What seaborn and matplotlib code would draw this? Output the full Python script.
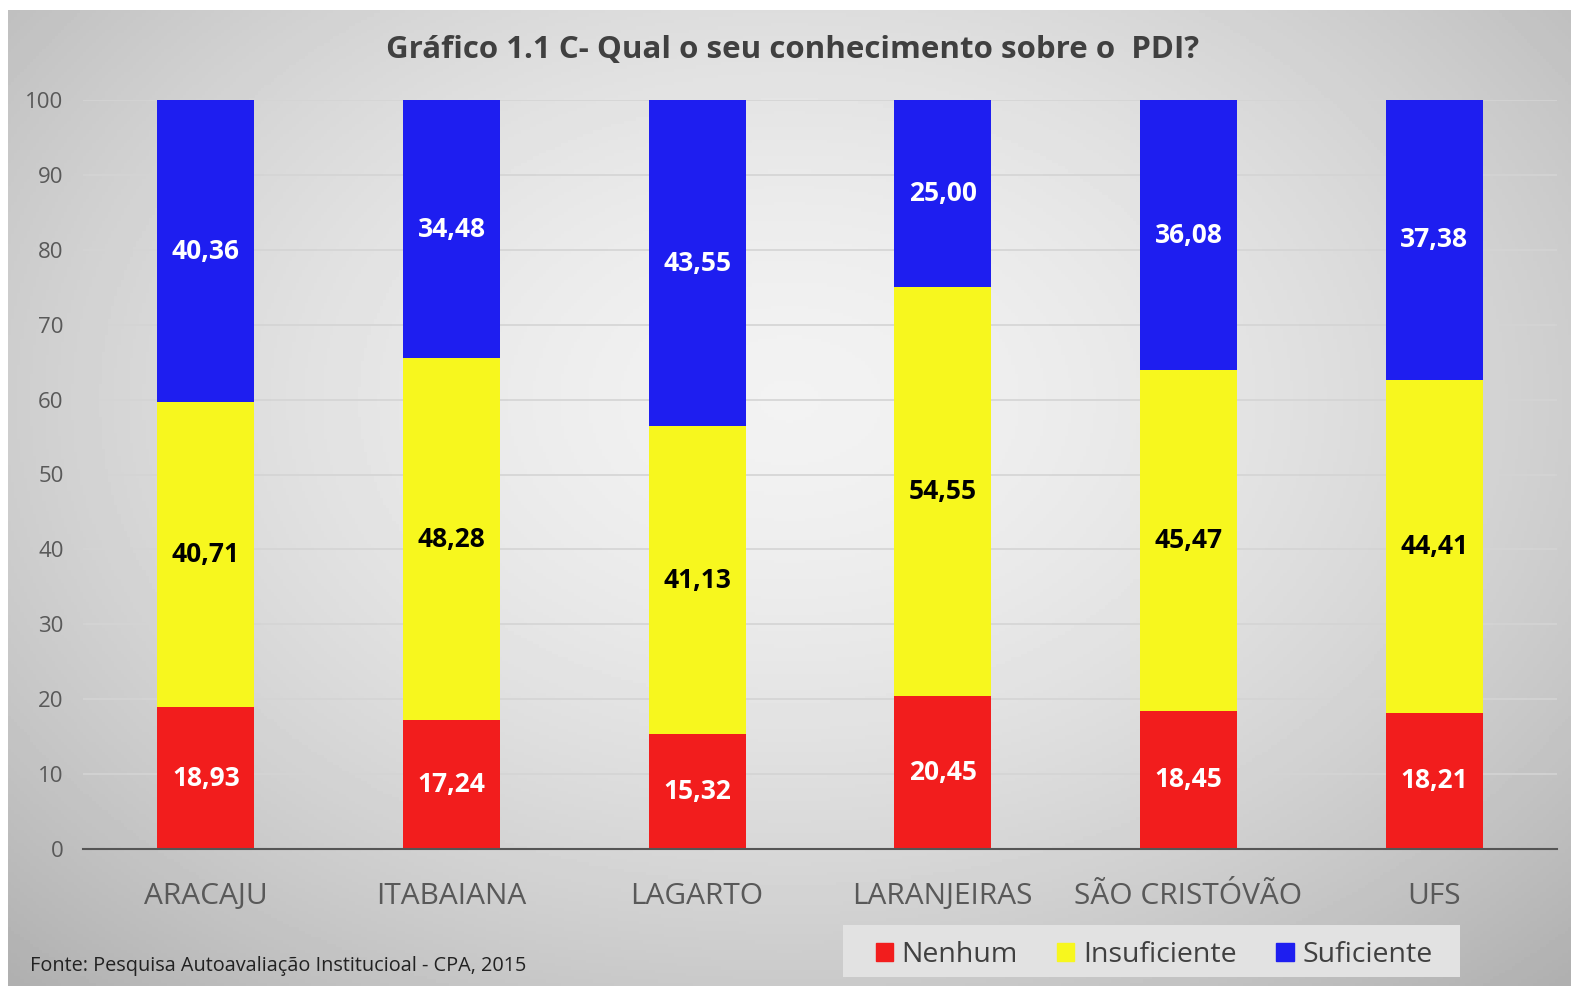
import numpy as np
import pandas as pd
import matplotlib
matplotlib.use("Agg")
import matplotlib.pyplot as plt
import seaborn as sns
from matplotlib.patches import Patch, Rectangle

cidades = ["ARACAJU", "ITABAIANA", "LAGARTO", "LARANJEIRAS", "SÃO CRISTÓVÃO", "UFS"]
nenhum = [18.93, 17.24, 15.32, 20.45, 18.45, 18.21]
insuficiente = [40.71, 48.28, 41.13, 54.55, 45.47, 44.41]
suficiente = [40.36, 34.48, 43.55, 25.00, 36.08, 37.38]

cores = {"Nenhum": "#F21D1D", "Insuficiente": "#F7F71E", "Suficiente": "#1E1EF0"}

df = pd.DataFrame({"cidade": cidades, "Nenhum": nenhum,
                   "Insuficiente": insuficiente, "Suficiente": suficiente})
df["ate_insuf"] = df["Nenhum"] + df["Insuficiente"]
df["total"] = df["ate_insuf"] + df["Suficiente"]

sns.set_style("white")
plt.rcParams["font.family"] = ["Open Sans", "DejaVu Sans"]

fig = plt.figure(figsize=(15.71, 9.86), dpi=100)

# fundo em degradê (claro no centro, cinza nas bordas)
bg = fig.add_axes([8 / 1571, 0, 1 - 8 / 1571, 1 - 10 / 986])
yy, xx = np.mgrid[-1:1:300j, -1:1:500j]
r = np.sqrt((xx * 0.9) ** 2 + ((yy + 0.2) * 0.8) ** 2)
grad = 0.95 - 0.17 * np.clip(r, 0, 1.3) ** 1.6
bg.imshow(grad, cmap="gray", vmin=0, vmax=1, aspect="auto", extent=[0, 1, 0, 1])
bg.set_axis_off()

ax = fig.add_axes([83 / 1571, 1 - 849 / 986, (1557 - 83) / 1571, (849 - 100) / 986])
ax.patch.set_alpha(0)

for col, serie in [("total", "Suficiente"), ("ate_insuf", "Insuficiente"), ("Nenhum", "Nenhum")]:
    sns.barplot(data=df, x="cidade", y=col, color=cores[serie], saturation=1,
                width=0.395, linewidth=0, ax=ax, zorder=3)

for i in range(len(df)):
    n, ins, s = df.loc[i, "Nenhum"], df.loc[i, "Insuficiente"], df.loc[i, "Suficiente"]
    for val, ymid, c in [(n, n / 2, "white"), (ins, n + ins / 2, "black"),
                         (s, n + ins + s / 2, "white")]:
        ax.text(i, ymid, f"{val:.2f}".replace(".", ","), ha="center", va="center",
                fontsize=19, fontweight="bold", color=c, zorder=4)

ax.set_xlim(-0.5, 5.5)
ax.set_ylim(0, 100)
ax.set_yticks(range(0, 101, 10))
ax.yaxis.grid(True, color="#d4d4d4", linewidth=1.2, zorder=0)
ax.set_axisbelow(True)
for sp in ["top", "right", "left"]:
    ax.spines[sp].set_visible(False)
ax.spines["bottom"].set_color("#555555")
ax.spines["bottom"].set_linewidth(1.5)
ax.spines["bottom"].set_zorder(5)
ax.tick_params(axis="y", length=0, labelsize=16, labelcolor="#595959", pad=14)
ax.tick_params(axis="x", length=0, labelsize=21.5, labelcolor="#595959", pad=24)
ax.set_xlabel("")
ax.set_ylabel("")

fig.text(793 / 1571, 1 - 50 / 986, "Gráfico 1.1 C- Qual o seu conhecimento sobre o  PDI?",
         ha="center", va="center", fontsize=22.5, fontweight="bold", color="#404040")
fig.text(30 / 1571, 1 - 966 / 986, "Fonte: Pesquisa Autoavaliação Institucioal - CPA, 2015",
         ha="left", va="center", fontsize=14.3, color="#222222")

# caixa da legenda
fig.patches.append(Rectangle((843 / 1571, 1 - 977 / 986), (1460 - 843) / 1571, 52 / 986,
                             transform=fig.transFigure, facecolor="#e2e2e2",
                             edgecolor="none", zorder=1))
handles = [Patch(color=cores[k], label=k) for k in ["Nenhum", "Insuficiente", "Suficiente"]]
leg = fig.legend(handles=handles, loc="center", bbox_to_anchor=(1154 / 1571, 1 - 955 / 986),
                 ncol=3, fontsize=20.5, frameon=False, handlelength=0.6,
                 handleheight=0.6, handletextpad=0.3, columnspacing=1.4)
for t in leg.get_texts():
    t.set_color("#404040")

plt.savefig("out.png", dpi=100)
plt.close(fig)
